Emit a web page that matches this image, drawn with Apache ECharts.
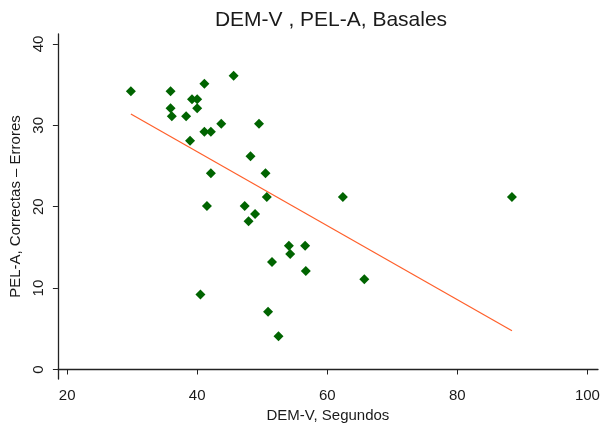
<!DOCTYPE html>
<html lang="en">
<head>
    <meta charset="UTF-8">
    <title>DEM-V , PEL-A, Basales</title>
    <script src="https://cdn.jsdelivr.net/npm/echarts@6/dist/echarts.min.js"></script>
    <style>
        html, body { margin: 0; padding: 0; background: #fff; }
    </style>
</head>
<body>
    <div id="chart" style="width: 604px; height: 428px;"></div>
    <script>
    // DEM-V (segundos) y PEL-A (correctas - errores), casos basales
    var demV = [29.8, 35.9, 45.6, 41.1, 39.2, 40.0, 35.9, 40.0, 36.1, 38.3,
                43.7, 49.5, 41.1, 42.1, 38.9, 48.2, 42.1, 50.5, 50.7, 62.4,
                41.5, 47.3, 48.9, 47.9, 54.1, 56.6, 54.3, 51.5, 56.7, 40.5,
                50.9, 52.5, 65.7, 88.4];
    var pelA = [34.2, 34.2, 36.1, 35.1, 33.2, 33.2, 32.1, 32.1, 31.1, 31.1,
                30.2, 30.2, 29.2, 29.2, 28.1, 26.2, 24.1, 24.1, 21.2, 21.2,
                20.1, 20.1, 19.1, 18.2, 15.2, 15.2, 14.2, 13.2, 12.1, 9.2,
                7.1, 4.1, 11.1, 21.2];
    // recta ajustada (extremos)
    var fitX = [29.8, 88.4];
    var fitY = [31.4, 4.75];
    var xTicks = [20, 40, 60, 80, 100];
    var yTicks = [0, 10, 20, 30, 40];

    var points = [];
    for (var i = 0; i < demV.length; i++) {
        points.push([demV[i], pelA[i]]);
    }
    var fitLine = [];
    for (var j = 0; j < fitX.length; j++) {
        fitLine.push([fitX[j], fitY[j]]);
    }

    var font = 'Liberation Sans, Arial, sans-serif';
    var axisColor = '#222';

    var myChart = echarts.init(document.getElementById('chart'));
    var option = {
        animation: false,
        backgroundColor: '#fff',
        title: {
            text: 'DEM-V , PEL-A, Basales',
            left: 326,
            top: 5,
            textAlign: 'center',
            textStyle: {
                fontFamily: font,
                fontSize: 21,
                fontWeight: 'normal',
                color: '#1a1a1a'
            }
        },
        grid: {
            left: 54,
            right: 6,
            top: 34,
            bottom: 46
        },
        xAxis: {
            type: 'value',
            min: 18.58,
            max: 101.63,
            name: 'DEM-V, Segundos',
            nameLocation: 'middle',
            nameGap: 22,
            nameTextStyle: { fontFamily: font, fontSize: 15, color: '#1a1a1a' },
            axisLine: { show: true, lineStyle: { color: axisColor, width: 1.3 } },
            axisTick: { show: true, length: 5, customValues: xTicks, lineStyle: { color: axisColor } },
            axisLabel: {
                customValues: xTicks,
                margin: 9,
                fontFamily: font,
                fontSize: 15,
                color: '#1a1a1a'
            },
            splitLine: { show: false }
        },
        yAxis: {
            type: 'value',
            min: -1.18,
            max: 41.22,
            name: 'PEL-A, Correctas \u2013 Errores',
            nameLocation: 'middle',
            nameGap: 29,
            nameTextStyle: { fontFamily: font, fontSize: 15, color: '#1a1a1a' },
            axisLine: { show: true, lineStyle: { color: axisColor, width: 1.3 } },
            axisTick: { show: true, length: 5, customValues: yTicks, lineStyle: { color: axisColor } },
            axisLabel: {
                customValues: yTicks,
                rotate: 90,
                margin: 12,
                fontFamily: font,
                fontSize: 15,
                color: '#1a1a1a'
            },
            splitLine: { show: false }
        },
        series: [
            {
                type: 'line',
                data: fitLine,
                symbol: 'none',
                lineStyle: { color: '#ff5f2a', width: 1.2 },
                z: 1
            },
            {
                type: 'scatter',
                data: points,
                symbol: 'diamond',
                symbolSize: 10,
                itemStyle: { color: '#006400', opacity: 1 },
                z: 2
            }
        ]
    };
    myChart.setOption(option);
    </script>
</body>
</html>
